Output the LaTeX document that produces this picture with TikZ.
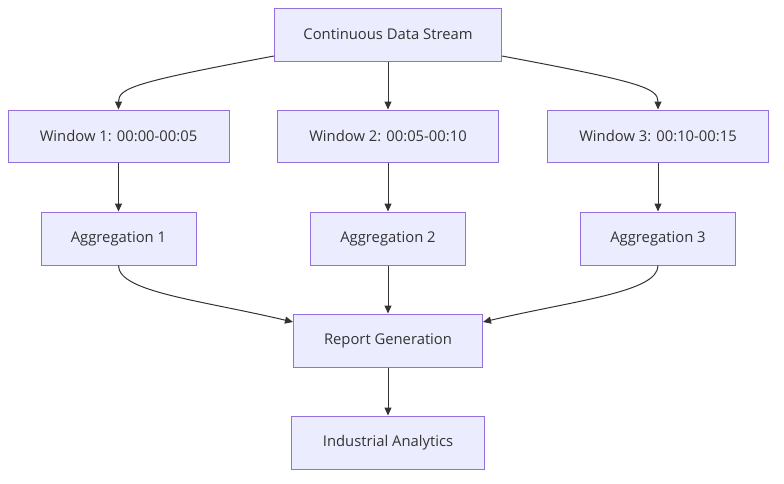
\documentclass[tikz,border=0pt]{standalone}
\usepackage{fontspec}
\setmainfont{Open Sans}
\usetikzlibrary{arrows.meta}
\definecolor{nodefill}{HTML}{ECECFF}
\definecolor{nodeline}{HTML}{9370DB}
\definecolor{txt}{HTML}{333333}
\begin{document}
\begin{tikzpicture}[x=1pt,y=-1pt,
  box/.style={draw=nodeline,fill=nodefill,line width=1pt,text=txt,inner sep=0pt,
    font=\fontsize{14.8}{17}\selectfont,minimum height=53pt},
  link/.style={draw=txt,line width=1pt,-{Triangle[length=8pt,width=7pt]}}]
\useasboundingbox (0,0) rectangle (784,483);
\node[box,minimum width=227pt] (s) at (388,34.5) {Continuous Data Stream};
\node[box,minimum width=221pt,minimum height=52pt] (w1) at (118.5,136) {Window 1: 00:00-00:05};
\node[box,minimum width=221pt,minimum height=52pt] (w2) at (388,136) {Window 2: 00:05-00:10};
\node[box,minimum width=221pt,minimum height=52pt] (w3) at (658,136) {Window 3: 00:10-00:15};
\node[box,minimum width=155pt] (a1) at (118.5,238.5) {Aggregation 1};
\node[box,minimum width=155pt] (a2) at (388,238.5) {Aggregation 2};
\node[box,minimum width=155pt] (a3) at (658,238.5) {Aggregation 3};
\node[box,minimum width=189pt] (r) at (388,340.5) {Report Generation};
\node[box,minimum width=193pt] (i) at (388,442.5) {Industrial Analytics};
\draw[link] (s.south west |- 0,56) .. controls (135,82) and (118.5,88) .. (w1.north);
\draw[link] (s.south east |- 0,56) .. controls (641,82) and (658,88) .. (w3.north);
\draw[link] (s) -- (w2);
\draw[link] (w1) -- (a1);
\draw[link] (w2) -- (a2);
\draw[link] (w3) -- (a3);
\draw[link] (a1.south) .. controls (118.5,292) and (200,300) .. (r.west |- 0,322);
\draw[link] (a3.south) .. controls (658,292) and (577,300) .. (r.east |- 0,322);
\draw[link] (a2) -- (r);
\draw[link] (r) -- (i);
\end{tikzpicture}
\end{document}
